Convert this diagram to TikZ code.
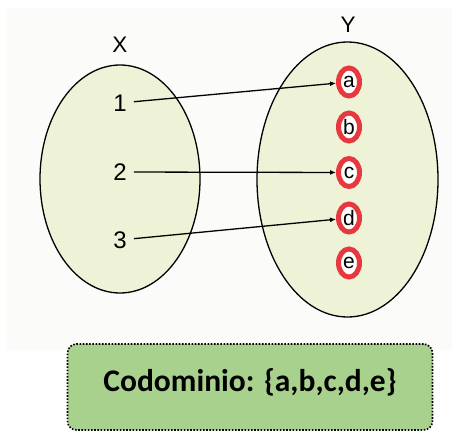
\documentclass[tikz,border=0pt]{standalone}
\usepackage{fontspec}
\setmainfont{Liberation Sans}
\newfontfamily\calib{Carlito}
\usetikzlibrary{shapes.geometric,arrows.meta}
\definecolor{bgc}{RGB}{251,252,250}
\definecolor{ellfill}{RGB}{238,242,214}
\definecolor{ringred}{RGB}{232,56,63}
\definecolor{boxgreen}{RGB}{169,209,142}
\tikzset{
  setell/.style={draw=black, line width=1.3pt, fill=ellfill, ellipse, inner sep=0pt},
  setlabel/.style={font=\fontsize{22.5}{22.5}\selectfont, inner sep=1pt},
  numlabel/.style={font=\fontsize{24}{24}\selectfont, inner sep=1pt},
  elem/.style={ellipse, draw=ringred, line width=5pt, fill=white, inner sep=0pt,
    minimum width=21pt, minimum height=28pt, font=\fontsize{21}{21}\selectfont},
  maparrow/.style={-{Latex[length=6pt,width=5pt]}, line width=1.3pt, shorten <=6pt},
  cobox/.style={draw=black, line width=1.6pt, dash pattern=on 1.6pt off 1.6pt,
    rounded corners=9pt, fill=boxgreen, minimum width=365pt, minimum height=86pt}
}
\begin{document}
\begin{tikzpicture}[x=1pt,y=-1pt]
\useasboundingbox (0,0) rectangle (454,433);
\fill[bgc] (6,8) rectangle (452,350);
% sets
\node[setell, minimum width=160pt, minimum height=228pt] (X) at (120,179) {};
\node[setell, minimum width=181pt, minimum height=275pt] (Y) at (347.5,179.5) {};
\node[setlabel] (Xl) at (120,45) {X};
\node[setlabel] (Yl) at (348,25) {Y};
% domain elements
\node[numlabel] (n1) at (120,103) {1};
\node[numlabel] (n2) at (120,172) {2};
\node[numlabel] (n3) at (120,240) {3};
% codomain elements
\node[elem] (a) at (349,82) {a};
\node[elem] (b) at (349,127) {b};
\node[elem] (c) at (349,172.5) {c};
\node[elem] (d) at (349,218) {d};
\node[elem] (e) at (349,263) {e};
% mapping
\draw[maparrow] (n1) -- (a);
\draw[maparrow] (n2) -- (c);
\draw[maparrow] (n3) -- (d);
% box
\node[cobox] (box) at (250,387) {};
\node[font=\calib\bfseries\fontsize{31.5}{31.5}\selectfont, inner sep=0pt] (cotext) at (250,382) {Codominio: \{a,b,c,d,e\}};
\end{tikzpicture}
\end{document}
